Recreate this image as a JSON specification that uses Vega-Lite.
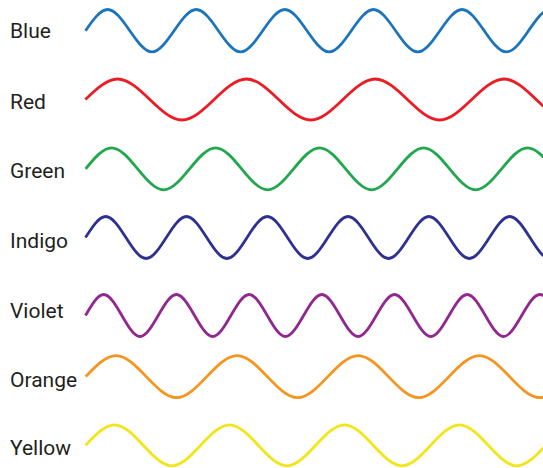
{
  "$schema": "https://vega.github.io/schema/vega-lite/v6.json",
  "width": 543,
  "height": 468,
  "padding": 0,
  "autosize": {"type": "none"},
  "background": "white",
  "config": {"view": {"stroke": null}},
  "datasets": {
    "waves": [
      {"wave": "Blue", "x": 85.5, "y": 30.7},
      {"wave": "Blue", "x": 107.65, "y": 9.5},
      {"wave": "Blue", "x": 129.8, "y": 30.7},
      {"wave": "Blue", "x": 151.95, "y": 51.9},
      {"wave": "Blue", "x": 174.1, "y": 30.7},
      {"wave": "Blue", "x": 196.25, "y": 9.5},
      {"wave": "Blue", "x": 218.4, "y": 30.7},
      {"wave": "Blue", "x": 240.55, "y": 51.9},
      {"wave": "Blue", "x": 262.7, "y": 30.7},
      {"wave": "Blue", "x": 284.85, "y": 9.5},
      {"wave": "Blue", "x": 307.0, "y": 30.7},
      {"wave": "Blue", "x": 329.15, "y": 51.9},
      {"wave": "Blue", "x": 351.3, "y": 30.7},
      {"wave": "Blue", "x": 373.45, "y": 9.5},
      {"wave": "Blue", "x": 395.6, "y": 30.7},
      {"wave": "Blue", "x": 417.75, "y": 51.9},
      {"wave": "Blue", "x": 439.9, "y": 30.7},
      {"wave": "Blue", "x": 462.05, "y": 9.5},
      {"wave": "Blue", "x": 484.2, "y": 30.7},
      {"wave": "Blue", "x": 506.35, "y": 51.9},
      {"wave": "Blue", "x": 528.5, "y": 30.7},
      {"wave": "Blue", "x": 550.65, "y": 9.5},
      {"wave": "Blue", "x": 572.8, "y": 30.7},
      {"wave": "Blue", "x": 594.95, "y": 51.9},

      {"wave": "Red", "x": 85.4, "y": 99.5},
      {"wave": "Red", "x": 117.6, "y": 79.0},
      {"wave": "Red", "x": 149.8, "y": 99.5},
      {"wave": "Red", "x": 182.0, "y": 120.0},
      {"wave": "Red", "x": 214.2, "y": 99.5},
      {"wave": "Red", "x": 246.4, "y": 79.0},
      {"wave": "Red", "x": 278.6, "y": 99.5},
      {"wave": "Red", "x": 310.8, "y": 120.0},
      {"wave": "Red", "x": 343.0, "y": 99.5},
      {"wave": "Red", "x": 375.2, "y": 79.0},
      {"wave": "Red", "x": 407.4, "y": 99.5},
      {"wave": "Red", "x": 439.6, "y": 120.0},
      {"wave": "Red", "x": 471.8, "y": 99.5},
      {"wave": "Red", "x": 504.0, "y": 79.0},
      {"wave": "Red", "x": 536.2, "y": 99.5},
      {"wave": "Red", "x": 568.4, "y": 120.0},
      {"wave": "Red", "x": 600.6, "y": 99.5},
      {"wave": "Red", "x": 632.8, "y": 79.0},

      {"wave": "Green", "x": 85.6, "y": 168.8},
      {"wave": "Green", "x": 111.6, "y": 147.8},
      {"wave": "Green", "x": 137.6, "y": 168.8},
      {"wave": "Green", "x": 163.6, "y": 189.8},
      {"wave": "Green", "x": 189.6, "y": 168.8},
      {"wave": "Green", "x": 215.6, "y": 147.8},
      {"wave": "Green", "x": 241.6, "y": 168.8},
      {"wave": "Green", "x": 267.6, "y": 189.8},
      {"wave": "Green", "x": 293.6, "y": 168.8},
      {"wave": "Green", "x": 319.6, "y": 147.8},
      {"wave": "Green", "x": 345.6, "y": 168.8},
      {"wave": "Green", "x": 371.6, "y": 189.8},
      {"wave": "Green", "x": 397.6, "y": 168.8},
      {"wave": "Green", "x": 423.6, "y": 147.8},
      {"wave": "Green", "x": 449.6, "y": 168.8},
      {"wave": "Green", "x": 475.6, "y": 189.8},
      {"wave": "Green", "x": 501.6, "y": 168.8},
      {"wave": "Green", "x": 527.6, "y": 147.8},
      {"wave": "Green", "x": 553.6, "y": 168.8},
      {"wave": "Green", "x": 579.6, "y": 189.8},
      {"wave": "Green", "x": 605.6, "y": 168.8},

      {"wave": "Indigo", "x": 85.5, "y": 237.5},
      {"wave": "Indigo", "x": 105.7, "y": 216.5},
      {"wave": "Indigo", "x": 125.9, "y": 237.5},
      {"wave": "Indigo", "x": 146.1, "y": 258.5},
      {"wave": "Indigo", "x": 166.3, "y": 237.5},
      {"wave": "Indigo", "x": 186.5, "y": 216.5},
      {"wave": "Indigo", "x": 206.7, "y": 237.5},
      {"wave": "Indigo", "x": 226.9, "y": 258.5},
      {"wave": "Indigo", "x": 247.1, "y": 237.5},
      {"wave": "Indigo", "x": 267.3, "y": 216.5},
      {"wave": "Indigo", "x": 287.5, "y": 237.5},
      {"wave": "Indigo", "x": 307.7, "y": 258.5},
      {"wave": "Indigo", "x": 327.9, "y": 237.5},
      {"wave": "Indigo", "x": 348.1, "y": 216.5},
      {"wave": "Indigo", "x": 368.3, "y": 237.5},
      {"wave": "Indigo", "x": 388.5, "y": 258.5},
      {"wave": "Indigo", "x": 408.7, "y": 237.5},
      {"wave": "Indigo", "x": 428.9, "y": 216.5},
      {"wave": "Indigo", "x": 449.1, "y": 237.5},
      {"wave": "Indigo", "x": 469.3, "y": 258.5},
      {"wave": "Indigo", "x": 489.5, "y": 237.5},
      {"wave": "Indigo", "x": 509.7, "y": 216.5},
      {"wave": "Indigo", "x": 529.9, "y": 237.5},
      {"wave": "Indigo", "x": 550.1, "y": 258.5},
      {"wave": "Indigo", "x": 570.3, "y": 237.5},
      {"wave": "Indigo", "x": 590.5, "y": 216.5},

      {"wave": "Violet", "x": 85.5, "y": 315.5},
      {"wave": "Violet", "x": 103.7, "y": 294.5},
      {"wave": "Violet", "x": 121.85, "y": 315.5},
      {"wave": "Violet", "x": 140.0, "y": 336.5},
      {"wave": "Violet", "x": 158.2, "y": 315.5},
      {"wave": "Violet", "x": 176.4, "y": 294.5},
      {"wave": "Violet", "x": 194.55, "y": 315.5},
      {"wave": "Violet", "x": 212.7, "y": 336.5},
      {"wave": "Violet", "x": 230.9, "y": 315.5},
      {"wave": "Violet", "x": 249.1, "y": 294.5},
      {"wave": "Violet", "x": 267.25, "y": 315.5},
      {"wave": "Violet", "x": 285.4, "y": 336.5},
      {"wave": "Violet", "x": 303.6, "y": 315.5},
      {"wave": "Violet", "x": 321.8, "y": 294.5},
      {"wave": "Violet", "x": 339.95, "y": 315.5},
      {"wave": "Violet", "x": 358.1, "y": 336.5},
      {"wave": "Violet", "x": 376.3, "y": 315.5},
      {"wave": "Violet", "x": 394.5, "y": 294.5},
      {"wave": "Violet", "x": 412.65, "y": 315.5},
      {"wave": "Violet", "x": 430.8, "y": 336.5},
      {"wave": "Violet", "x": 449.0, "y": 315.5},
      {"wave": "Violet", "x": 467.2, "y": 294.5},
      {"wave": "Violet", "x": 485.35, "y": 315.5},
      {"wave": "Violet", "x": 503.5, "y": 336.5},
      {"wave": "Violet", "x": 521.7, "y": 315.5},
      {"wave": "Violet", "x": 539.9, "y": 294.5},
      {"wave": "Violet", "x": 558.05, "y": 315.5},
      {"wave": "Violet", "x": 576.2, "y": 336.5},
      {"wave": "Violet", "x": 594.4, "y": 315.5},

      {"wave": "Orange", "x": 85.7, "y": 376.6},
      {"wave": "Orange", "x": 116.0, "y": 355.6},
      {"wave": "Orange", "x": 146.25, "y": 376.6},
      {"wave": "Orange", "x": 176.5, "y": 397.6},
      {"wave": "Orange", "x": 206.8, "y": 376.6},
      {"wave": "Orange", "x": 237.1, "y": 355.6},
      {"wave": "Orange", "x": 267.35, "y": 376.6},
      {"wave": "Orange", "x": 297.6, "y": 397.6},
      {"wave": "Orange", "x": 327.9, "y": 376.6},
      {"wave": "Orange", "x": 358.2, "y": 355.6},
      {"wave": "Orange", "x": 388.45, "y": 376.6},
      {"wave": "Orange", "x": 418.7, "y": 397.6},
      {"wave": "Orange", "x": 449.0, "y": 376.6},
      {"wave": "Orange", "x": 479.3, "y": 355.6},
      {"wave": "Orange", "x": 509.55, "y": 376.6},
      {"wave": "Orange", "x": 539.8, "y": 397.6},
      {"wave": "Orange", "x": 570.1, "y": 376.6},
      {"wave": "Orange", "x": 600.4, "y": 355.6},
      {"wave": "Orange", "x": 630.65, "y": 376.6},

      {"wave": "Yellow", "x": 85.7, "y": 445.3},
      {"wave": "Yellow", "x": 114.45, "y": 424.8},
      {"wave": "Yellow", "x": 143.2, "y": 445.3},
      {"wave": "Yellow", "x": 171.95, "y": 465.8},
      {"wave": "Yellow", "x": 200.7, "y": 445.3},
      {"wave": "Yellow", "x": 229.45, "y": 424.8},
      {"wave": "Yellow", "x": 258.2, "y": 445.3},
      {"wave": "Yellow", "x": 286.95, "y": 465.8},
      {"wave": "Yellow", "x": 315.7, "y": 445.3},
      {"wave": "Yellow", "x": 344.45, "y": 424.8},
      {"wave": "Yellow", "x": 373.2, "y": 445.3},
      {"wave": "Yellow", "x": 401.95, "y": 465.8},
      {"wave": "Yellow", "x": 430.7, "y": 445.3},
      {"wave": "Yellow", "x": 459.45, "y": 424.8},
      {"wave": "Yellow", "x": 488.2, "y": 445.3},
      {"wave": "Yellow", "x": 516.95, "y": 465.8},
      {"wave": "Yellow", "x": 545.7, "y": 445.3},
      {"wave": "Yellow", "x": 574.45, "y": 424.8},
      {"wave": "Yellow", "x": 603.2, "y": 445.3},
      {"wave": "Yellow", "x": 631.95, "y": 465.8}
    ],
    "labels": [
      {"wave": "Blue", "y": 38.3},
      {"wave": "Red", "y": 109.3},
      {"wave": "Green", "y": 178.3},
      {"wave": "Indigo", "y": 247.7},
      {"wave": "Violet", "y": 318.3},
      {"wave": "Orange", "y": 387.0},
      {"wave": "Yellow", "y": 455.0}
    ]
  },
  "layer": [
    {
      "data": {"name": "waves"},
      "mark": {"type": "line", "interpolate": "natural", "strokeWidth": 2.8, "clip": true},
      "encoding": {
        "x": {"field": "x", "type": "quantitative", "scale": {"domain": [0, 543], "nice": false, "zero": false}, "axis": null},
        "y": {"field": "y", "type": "quantitative", "scale": {"domain": [0, 468], "reverse": true, "nice": false, "zero": false}, "axis": null},
        "color": {
          "field": "wave",
          "type": "nominal",
          "scale": {
            "domain": ["Blue", "Red", "Green", "Indigo", "Violet", "Orange", "Yellow"],
            "range": ["#1c75bc", "#ed1c24", "#22a84c", "#2e3192", "#92278f", "#f7941d", "#f4e51a"]
          },
          "legend": null
        }
      }
    },
    {
      "data": {"name": "labels"},
      "mark": {"type": "text", "align": "left", "baseline": "alphabetic", "font": "Roboto", "fontSize": 21, "color": "#231f20"},
      "encoding": {
        "x": {"datum": 10, "type": "quantitative", "scale": {"domain": [0, 543], "nice": false, "zero": false}, "axis": null},
        "y": {"field": "y", "type": "quantitative", "scale": {"domain": [0, 468], "reverse": true, "nice": false, "zero": false}, "axis": null},
        "text": {"field": "wave"}
      }
    }
  ]
}
